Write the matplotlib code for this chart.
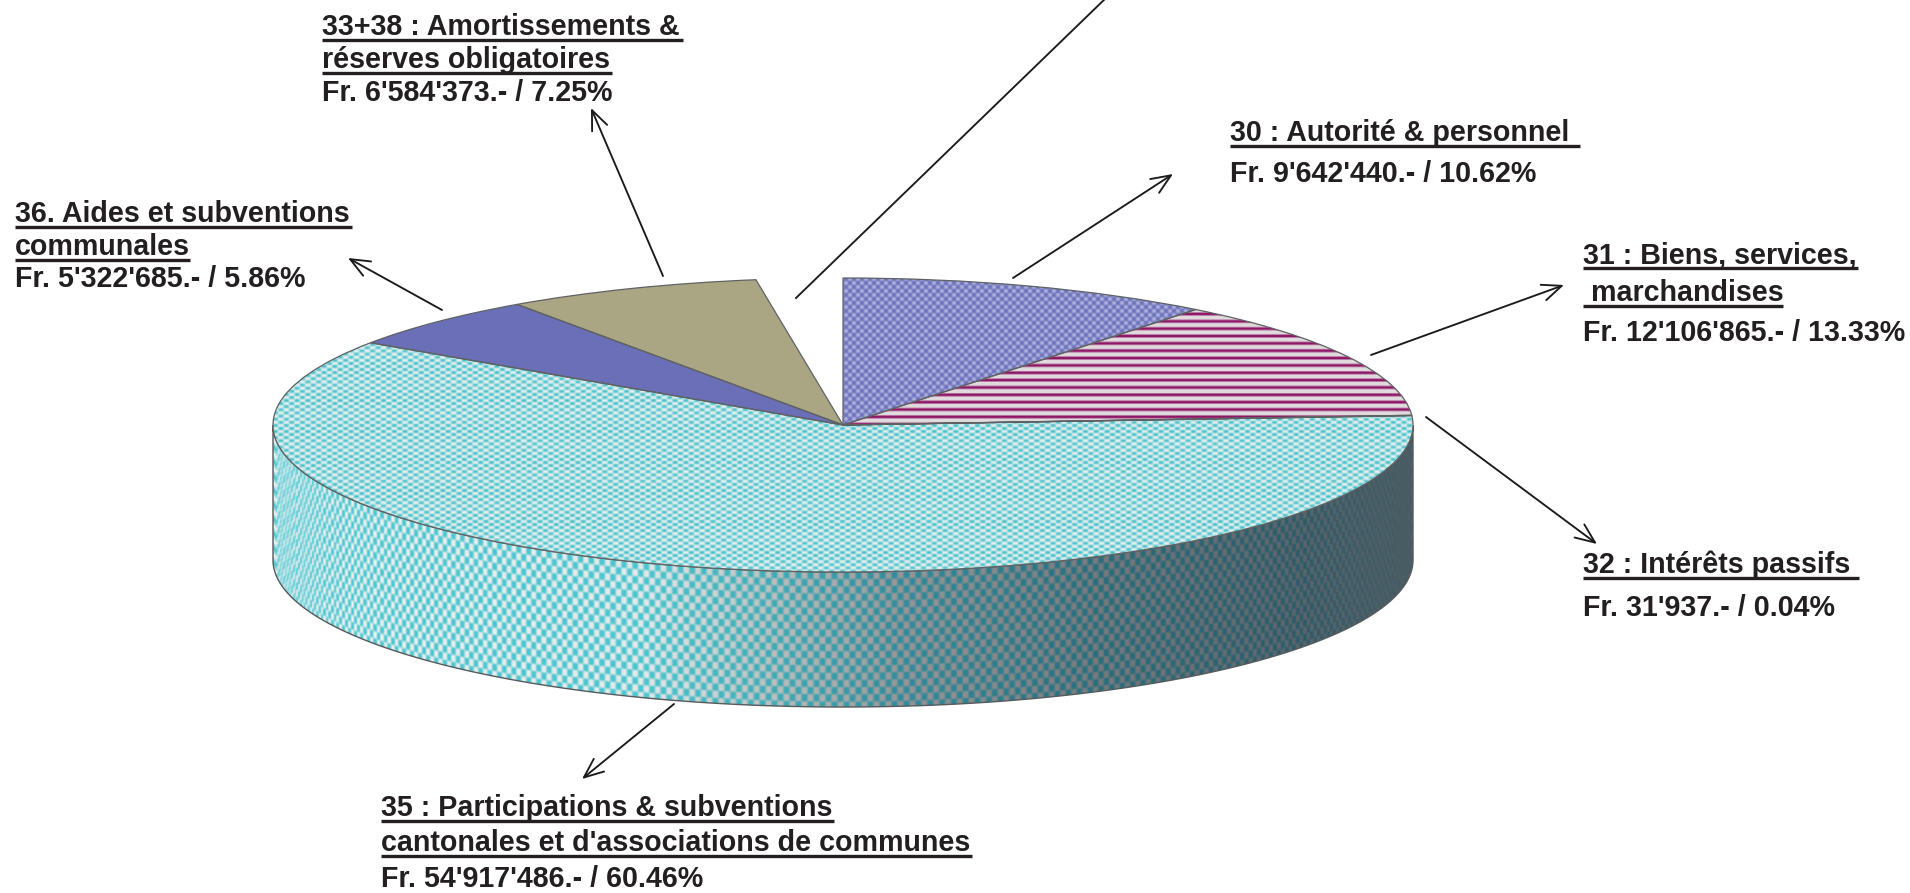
import numpy as np
import matplotlib
matplotlib.use("Agg")
import matplotlib.pyplot as plt
from matplotlib.patches import Wedge, PathPatch
from matplotlib.path import Path

# ---------- data ----------
categories = ["30", "31", "32", "35", "36", "33+38", "autres"]
amounts_fr = [9642440, 12106865, 31937, 54917486, 5322685, 6584373, 2217000]  # last slice: label outside the picture, estimated
title_lines = [
    ["30 : Autorité & personnel "],
    ["31 : Biens, services,", " marchandises"],
    ["32 : Intérêts passifs "],
    ["35 : Participations & subventions", "cantonales et d'associations de communes"],
    ["36. Aides et subventions", "communales"],
    ["33+38 : Amortissements &", "réserves obligatoires"],
]
value_lines = [
    "Fr. 9'642'440.- / 10.62%",
    "Fr. 12'106'865.- / 13.33%",
    "Fr. 31'937.- / 0.04%",
    "Fr. 54'917'486.- / 60.46%",
    "Fr. 5'322'685.- / 5.86%",
    "Fr. 6'584'373.- / 7.25%",
]

# ---------- layout (pixels) ----------
W, H = 1910, 893
CX, CY, A, B, DEPTH = 843.0, 425.0, 570.0, 147.0, 135.0
PAD = 1.02
INK = "#231f20"
FS = 20.6
# per label: x, title baselines, underline right ends, value baseline
label_layout = [
    (1230, [141], [1580], 182),
    (1583, [263, 301], [1858, 1783], 341),
    (1583, [573], [1859], 616),
    (381, [816, 851], [834, 972], 887),
    (15, [222, 255], [352, 190], 287),
    (322, [35, 68], [683, 612], 101),
]
arrows = [
    ((1013, 278), (1173, 174)),
    ((1371, 355), (1564, 285)),
    ((1426, 417), (1597, 544)),
    ((674, 704), (582, 779)),
    ((442, 310), (348, 258)),
    ((663, 276), (591, 108)),
]
top_line = ((796, 298), (1107, -3))

plt.rcParams["font.family"] = ["Liberation Sans", "DejaVu Sans"]
fig = plt.figure(figsize=(W / 100, H / 100), dpi=100, facecolor="white")
ax = fig.add_axes([0, 0, 1, 1])
ax.set_axis_off()


def soft(s, k=3.0):
    return np.clip(0.5 + k * s, 0, 1)[..., None]


def hexrgb(c):
    return np.array(matplotlib.colors.to_rgb(c))


def blur(img):
    out = img.copy()
    for axis in (0, 1):
        out = (np.roll(out, 1, axis) + 2 * out + np.roll(out, -1, axis)) / 4
    return out


# ---------- wall ----------
x0, x1, y0, y1 = int(CX - A) - 2, int(CX + A) + 3, int(CY) - 5, int(CY + B + DEPTH) + 4
xx, yy = np.meshgrid(np.arange(x0, x1) + 0.5, np.arange(y0, y1) + 0.5)
tt = np.clip((xx - CX) / A, -1, 1)
uu = np.arcsin(tt) * A
vv = yy - (CY + B * np.sqrt(1 - tt ** 2))
mix = soft(np.sin(np.pi * uu / 6.0) * np.sin(np.pi * vv / 7.2))
sx = [273, 640, 760, 900, 1100, 1300, 1412]
light_c = np.array([(238, 243, 243), (228, 233, 233), (190, 195, 195), (150, 150, 152),
                    (120, 122, 125), (90, 102, 108), (78, 95, 102)]) / 255
teal_c = np.array([(75, 198, 208), (75, 198, 208), (65, 175, 185), (50, 140, 155),
                   (40, 110, 125), (45, 90, 105), (70, 90, 98)]) / 255
light = np.stack([np.interp(xx, sx, light_c[:, i]) for i in range(3)], -1)
teal = np.stack([np.interp(xx, sx, teal_c[:, i]) for i in range(3)], -1)
wall_tex = blur(mix * teal + (1 - mix) * light)

ts = np.linspace(0, np.pi, 300)
top_x, top_y = CX + A * np.cos(ts), CY + B * np.sin(ts)
verts = np.r_[np.c_[top_x, top_y], np.c_[top_x[::-1], top_y[::-1] + DEPTH]]
verts = np.r_[verts, verts[:1]]
wall_path = Path(verts, closed=True)
wall_patch = PathPatch(wall_path, facecolor="none", edgecolor="#555a5c", linewidth=1.0, zorder=3)
ax.add_patch(wall_patch)
im = ax.imshow(wall_tex, extent=[x0, x1, y1, y0], aspect="auto", interpolation="bilinear", zorder=2)
im.set_clip_path(wall_patch)
ax.set_xlim(0, W)
ax.set_ylim(H, 0)

# ---------- labels ----------
for lines, value, (lx, bases, ends, vbase) in zip(title_lines, value_lines, label_layout):
    for line, base, end in zip(lines, bases, ends):
        ax.text(lx, base, line, fontsize=FS, fontweight="bold", color=INK, va="baseline", ha="left")
        ax.plot([lx, end], [base + 5, base + 5], color=INK, lw=2.4, solid_capstyle="butt")
    ax.text(lx, vbase, value, fontsize=FS, fontweight="bold", color=INK, va="baseline", ha="left")

for tail, head in arrows:
    ax.annotate("", xy=head, xytext=tail,
                arrowprops=dict(arrowstyle="->,head_length=1.0,head_width=0.42", mutation_scale=14,
                                lw=1.35, color="#1a1a1a", shrinkA=0, shrinkB=0))
ax.plot(*zip(*top_line), color="#1a1a1a", lw=1.35)

# ---------- pie top ----------
pie_ax = fig.add_axes([(CX - A * PAD) / W, 1 - (CY + B * PAD) / H, 2 * A * PAD / W, 2 * B * PAD / H])
base_colors = ["#8589c6", "#b46f9c", "#6a3a60", "#9fdde0", "#6a6fb8", "#aaa684", "none"]
wedges, _ = pie_ax.pie(amounts_fr, startangle=90, counterclock=False, colors=base_colors,
                       wedgeprops=dict(linewidth=0))
pie_ax.set_aspect("auto")

nx, ny = int(round(2 * A * PAD)), int(round(2 * B * PAD))
gx, gy = np.meshgrid(np.arange(nx) + 0.5, np.arange(ny) + 0.5)

# dotted blue
dots = soft(np.cos(2 * np.pi * gx / 8.0) * np.cos(2 * np.pi * gy / 8.0) - 0.15, 1.6)
tex_30 = blur(dots * hexrgb("#b4b7df") + (1 - dots) * hexrgb("#6d72bd"))
# magenta stripes
phase = (gy % 7.35) / 7.35
band = np.clip(1.25 - np.abs(phase - 0.3) / 0.26, 0, 1)[..., None]
tex_31 = band * hexrgb("#8f1767") + (1 - band) * hexrgb("#e0dade")
# teal checks
chk = soft(np.sin(np.pi * gx / 5.4) * np.sin(np.pi * gy / 3.1) - 0.1, 2.0)
tex_35 = blur(chk * hexrgb("#45c2cb") + (1 - chk) * hexrgb("#e6efef"))

extent = [-PAD, PAD, -PAD, PAD]
for wedge, tex in zip([wedges[0], wedges[1], wedges[3]], [tex_30, tex_31, tex_35]):
    t_im = pie_ax.imshow(tex, extent=extent, aspect="auto", interpolation="bilinear", zorder=2)
    t_im.set_clip_path(wedge)

# slice outlines (the last, white slice has none)
for wedge in wedges[:-1]:
    pie_ax.add_patch(Wedge(wedge.center, wedge.r, wedge.theta1, wedge.theta2, fill=False,
                           edgecolor="#5f6263", linewidth=0.9, zorder=4))
pie_ax.set_xlim(-PAD, PAD)
pie_ax.set_ylim(-PAD, PAD)

fig.savefig("out.png", dpi=100, facecolor="white")
